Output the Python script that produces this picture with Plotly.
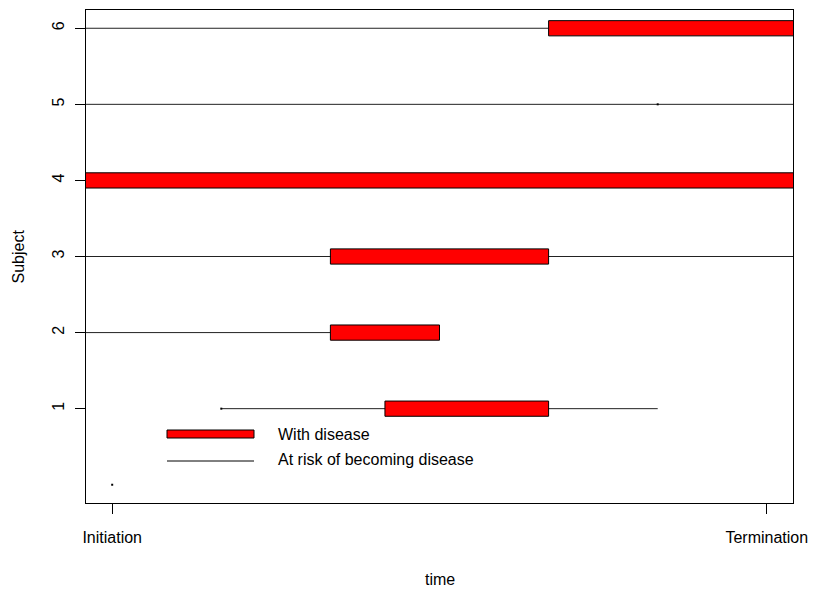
import plotly.graph_objects as go

# Follow-up history per subject (time in arbitrary units, 0 = initiation, 12 = termination)
subjects = [1, 2, 3, 4, 5, 6]
risk_start = [2, -1, -1, None, -1, -1]
risk_end = [10, 4, 13, None, 13, 8]
disease_start = [5, 4, 4, -1, None, 8]
disease_end = [8, 6, 8, 13, None, 13]
event_x = [2, 10, 0]
event_y = [1, 5, 0]
tick_vals = [0, 12]
tick_text = ["Initiation", "Termination"]

FONT = "Liberation Sans, Arial, Helvetica, sans-serif"
HALF = 0.1  # half thickness of a disease bar, in subject units

fig = go.Figure()

# at-risk periods as thin line segments
lx, ly = [], []
for s, a, b in zip(subjects, risk_start, risk_end):
    if a is None:
        continue
    lx += [a, b, None]
    ly += [s, s, None]
fig.add_trace(go.Scatter(x=lx, y=ly, mode="lines",
                         line=dict(color="#222222", width=1),
                         hoverinfo="skip", showlegend=False))

# disease periods as filled red rectangles drawn on top of the lines
for s, a, b in zip(subjects, disease_start, disease_end):
    if a is None:
        continue
    fig.add_trace(go.Scatter(
        x=[a, b, b, a, a], y=[s - HALF, s - HALF, s + HALF, s + HALF, s - HALF],
        mode="lines", fill="toself", fillcolor="#ff0000",
        line=dict(color="black", width=1),
        hoverinfo="skip", showlegend=False))

# single time points
fig.add_trace(go.Scatter(x=event_x, y=event_y, mode="markers",
                         marker=dict(color="black", size=2, symbol="square"),
                         hoverinfo="skip", showlegend=False))

L, R, T, B = 86, 793, 10, 503
W, H = R - L, B - T


def px(x):
    return (x - L) / W


def py(y):
    return (B - y) / H


shapes = [
    dict(type="rect", xref="paper", yref="paper",
         x0=px(167), x1=px(254), y0=py(438), y1=py(430),
         fillcolor="#ff0000", line=dict(color="black", width=1)),
    dict(type="line", xref="paper", yref="paper",
         x0=px(167), x1=px(254), y0=py(461), y1=py(461),
         line=dict(color="black", width=1)),
]

annotations = [
    dict(text="With disease", xref="paper", yref="paper", x=px(276), y=py(434),
         xanchor="left", yanchor="middle", showarrow=False,
         font=dict(family=FONT, size=16, color="black")),
    dict(text="At risk of becoming disease", xref="paper", yref="paper",
         x=px(276), y=py(459), xanchor="left", yanchor="middle", showarrow=False,
         font=dict(family=FONT, size=16, color="black")),
    dict(text="time", xref="paper", yref="paper", x=0.5, y=py(579),
         xanchor="center", yanchor="middle", showarrow=False,
         font=dict(family=FONT, size=16, color="black")),
    dict(text="Subject", xref="paper", yref="paper", x=px(18), y=0.5,
         xanchor="center", yanchor="middle", showarrow=False, textangle=-90,
         font=dict(family=FONT, size=16, color="black")),
]

fig.update_layout(
    width=814, height=591,
    margin=dict(l=L, r=814 - R, t=T, b=591 - B, autoexpand=False),
    paper_bgcolor="white", plot_bgcolor="white",
    font=dict(family=FONT, size=16, color="black"),
    shapes=shapes, annotations=annotations,
)
fig.update_xaxes(range=[-0.48, 12.48], tickvals=tick_vals, ticktext=tick_text,
                 showgrid=False, zeroline=False, showline=True, mirror=True,
                 linecolor="black", linewidth=1, ticks="outside", ticklen=10,
                 tickcolor="black", tickfont=dict(size=16), ticklabelstandoff=10,
                 automargin=False)
fig.update_yaxes(range=[-0.24, 6.24], tickvals=subjects,
                 showgrid=False, zeroline=False, showline=True, mirror=True,
                 linecolor="black", linewidth=1, ticks="outside", ticklen=10,
                 tickcolor="black", tickangle=-90, tickfont=dict(size=16),
                 ticklabelstandoff=5, automargin=False)

fig.write_html("out.html")
